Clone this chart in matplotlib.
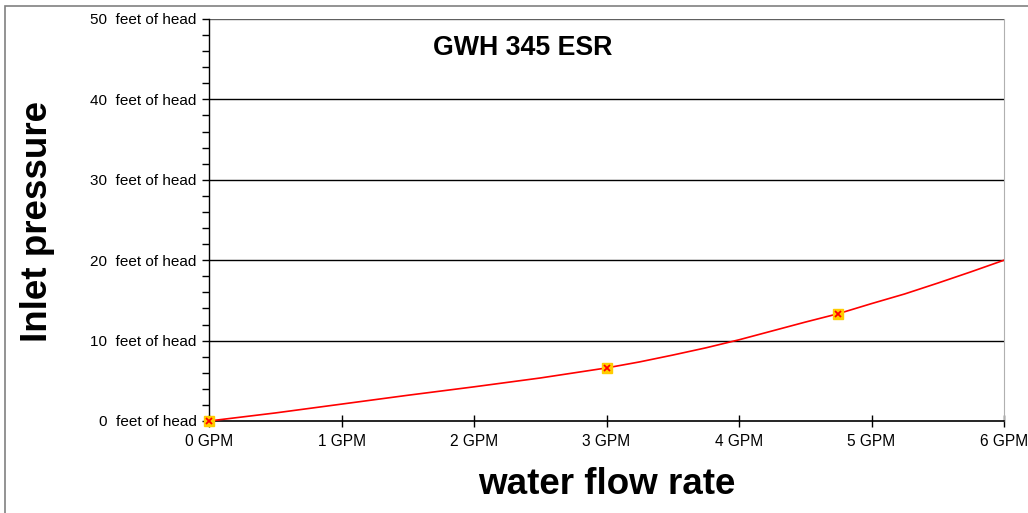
import matplotlib
matplotlib.use('Agg')
import matplotlib.pyplot as plt
from matplotlib.patches import Rectangle
from matplotlib.ticker import MultipleLocator

plt.rcParams['font.family'] = ['Liberation Sans', 'DejaVu Sans']

# curve
flow = [0, 0.5, 1, 1.5, 2, 2.5, 3, 3.25, 3.5, 3.75, 4, 4.25, 4.5, 4.75, 5, 5.25, 5.5, 5.75, 6]
head = [0, 1.0, 2.1, 3.2, 4.25, 5.35, 6.6, 7.35, 8.2, 9.1, 10.1, 11.2, 12.3, 13.35, 14.6, 15.8, 17.15, 18.55, 20.0]

# measured points
pt_flow = [0, 3, 4.75]
pt_head = [0, 6.6, 13.35]

yticks = [0, 10, 20, 30, 40, 50]
xticks = [0, 1, 2, 3, 4, 5, 6]

fig = plt.figure(figsize=(10.28, 5.13), dpi=100)
ax = fig.add_axes([209/1028, 1 - 421/513, (1004 - 209)/1028, (421 - 19)/513])

# outer frame of the chart
fig.patches.append(Rectangle((5/1028, -0.1), 1.2, 1 - 6/513 + 0.1, transform=fig.transFigure,
                             fill=False, edgecolor='#808080', linewidth=1.2))

for y in yticks[1:]:
    ax.axhline(y, color='black' if y < 50 else '#606060', linewidth=1.0, zorder=1)

ax.plot(flow, head, color='#ff0000', linewidth=1.2, zorder=3)
ax.plot(pt_flow, pt_head, linestyle='none', marker='s', markersize=7.5,
        markerfacecolor='#ffcc00', markeredgecolor='#ffcc00', zorder=4, clip_on=False)
ax.plot(pt_flow, pt_head, linestyle='none', marker='x', markersize=5,
        markeredgecolor='#ff0000', markeredgewidth=1.3, zorder=5, clip_on=False)

ax.set_xlim(0, 6)
ax.set_ylim(0, 50)
ax.set_xticks(xticks)
ax.set_xticklabels([f'{v} GPM' for v in xticks], fontsize=11.2)
ax.set_yticks(yticks)
ax.set_yticklabels([f'{v}  feet of head' for v in yticks], fontsize=11)
ax.yaxis.set_minor_locator(MultipleLocator(2))
ax.tick_params(axis='x', direction='inout', length=9, width=1, pad=5)
ax.tick_params(axis='y', which='major', direction='out', length=5, width=1, pad=4)
ax.tick_params(axis='y', which='minor', direction='out', length=5, width=1)

ax.spines['top'].set_visible(False)
ax.spines['right'].set_color('#b0b0b0')
ax.spines['left'].set_linewidth(1.0)
ax.spines['bottom'].set_linewidth(1.2)

fig.text(523/1028, 1 - 48/513, 'GWH 345 ESR', fontsize=19.3, fontweight='bold',
         ha='center', va='center')
fig.text(38/1028, 1 - 221/513, 'Inlet pressure', fontsize=26.5, fontweight='bold',
         rotation=90, ha='center', va='center')
fig.text(607/1028, 1 - 484/513, 'water flow rate', fontsize=26.5, fontweight='bold',
         ha='center', va='center')

fig.savefig('out.png', dpi=100)
